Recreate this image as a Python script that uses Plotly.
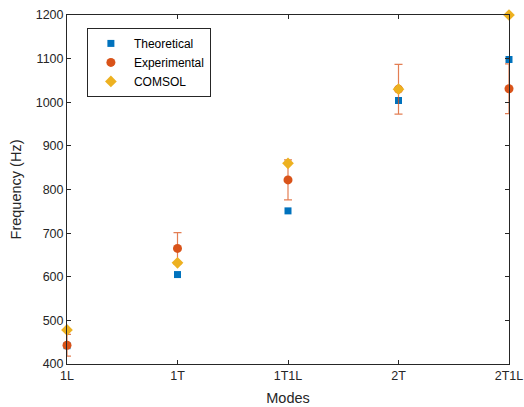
import plotly.graph_objects as go

modes = ["1L", "1T", "1T1L", "2T", "2T1L"]
theoretical = [442, 605, 751, 1004, 1098]
experimental = [443, 665, 822, 1030, 1031]
exp_error = [25, 36, 46, 57, 57]
comsol = [478, 632, 860, 1030, 1200]

blue = "#0072BD"
orange = "#D95319"
yellow = "#EDB120"
font = "Liberation Sans, Arial, sans-serif"

fig = go.Figure()
fig.add_trace(go.Scatter(
    x=modes, y=theoretical, mode="markers", name="Theoretical",
    marker=dict(symbol="square", size=7, color=blue), cliponaxis=False))
fig.add_trace(go.Scatter(
    x=modes, y=experimental, mode="markers", name="Experimental",
    marker=dict(symbol="circle", size=9, color=orange),
    error_y=dict(type="data", array=exp_error, visible=True, color="rgba(217,83,25,0.75)",
                 thickness=1.2, width=4),
    cliponaxis=False))
fig.add_trace(go.Scatter(
    x=modes, y=comsol, mode="markers", name="COMSOL",
    marker=dict(symbol="diamond", size=9, color=yellow), cliponaxis=False))

axis_common = dict(
    showline=True, linecolor="#262626", linewidth=1, mirror="ticks",
    ticks="inside", ticklen=4, tickcolor="#262626", showgrid=False, zeroline=False,
    tickfont=dict(family=font, size=12.5, color="#262626"), automargin=False,
)
fig.update_xaxes(type="category", range=[0, 4],
                 title=dict(text="Modes", font=dict(family=font, size=14.5, color="#262626"), standoff=10),
                 **axis_common)
fig.update_yaxes(range=[400, 1200], dtick=100,
                 title=dict(text="Frequency (Hz)", font=dict(family=font, size=14.5, color="#262626"), standoff=10),
                 **axis_common)

fig.update_layout(
    width=524, height=407,
    margin=dict(l=67, r=15, t=15, b=43),
    plot_bgcolor="white", paper_bgcolor="white",
    showlegend=True,
    legend=dict(x=0.045, y=0.963, xanchor="left", yanchor="top",
                bordercolor="#262626", borderwidth=1, bgcolor="white",
                font=dict(family=font, size=12, color="#000000"),
                itemwidth=36, tracegroupgap=0),
)
fig.write_html("out.html", config={"displayModeBar": False},
               post_script="document.body.style.margin='0px';")
